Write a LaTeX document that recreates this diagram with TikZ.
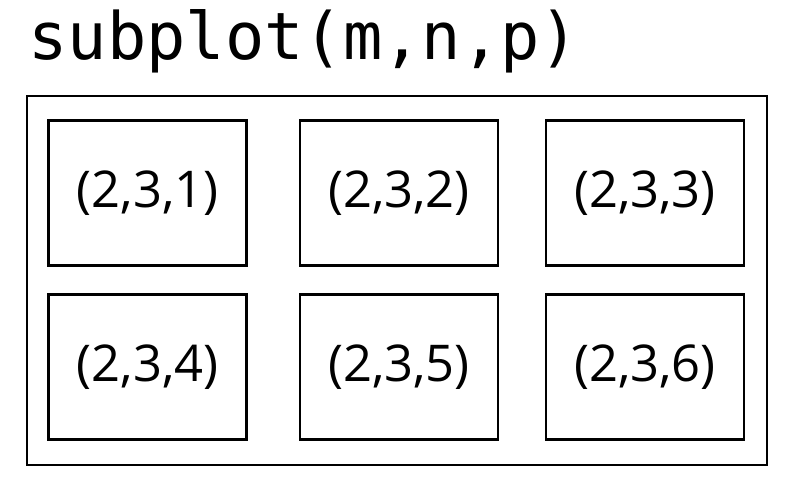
\documentclass[tikz,border=0pt]{standalone}
\usepackage{fontspec}
\setmonofont{DejaVu Sans Mono}
\setsansfont{Open Sans}
\begin{document}
\begin{tikzpicture}[x=0.75pt,y=-0.75pt,node distance=130.5pt,
	line width=2.2pt,
	sub node/.style = {rectangle,draw, inner sep = 0pt, minimum width = 148.5pt, minimum height = 108.75pt,
		font=\sffamily\fontsize{38}{46}\selectfont},
	frame node/.style = {rectangle,draw, inner sep = 0pt, minimum width = 555pt, minimum height = 276.75pt}]
	\useasboundingbox (0,0) rectangle (800,491);
	\node[anchor=base west, inner sep=0pt, font=\ttfamily\fontsize{49}{58}\selectfont] (title) at (27,60) {subplot(m,n,p)};
	\node[frame node] (frame) at (397,280.5) {};
	\node[sub node] (1) at (147.5,193) {(2,3,1)};
	\node[sub node] (2) at (399,193) {(2,3,2)};
	\node[sub node] (3) at (645,193) {(2,3,3)};
	\node[sub node] [below of = 1] (4) {(2,3,4)};
	\node[sub node] [below of = 2] (5) {(2,3,5)};
	\node[sub node] [below of = 3] (6) {(2,3,6)};
\end{tikzpicture}
\end{document}
